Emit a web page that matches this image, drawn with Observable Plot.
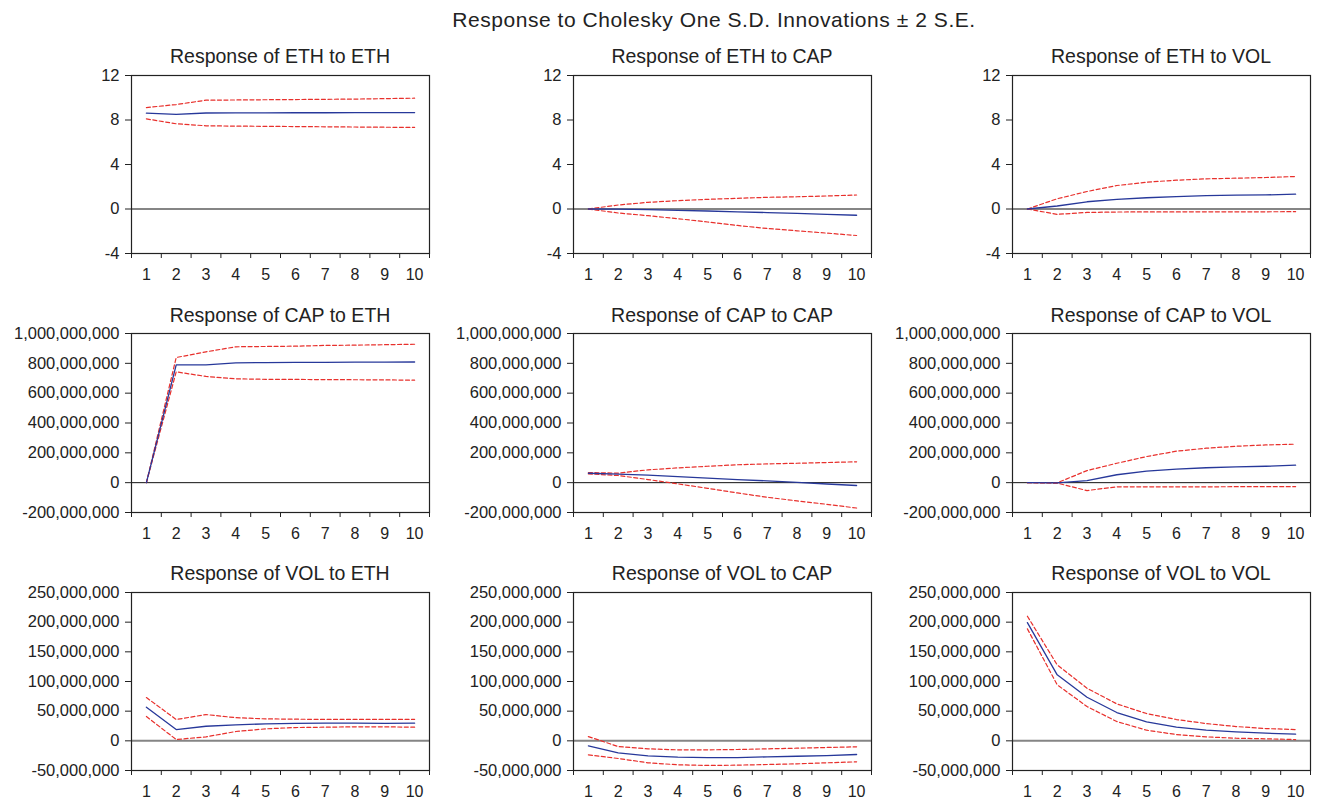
<!DOCTYPE html>
<html>
<head>
<meta charset="utf-8">
<script src="https://cdn.jsdelivr.net/npm/d3@7"></script>
<script src="https://cdn.jsdelivr.net/npm/@observablehq/plot@0.6"></script>
<style>
  html, body { margin: 0; padding: 0; background: #fff; }
  #wrap { position: relative; width: 1320px; height: 801px; overflow: hidden; font-family: "Liberation Sans", Arial, sans-serif; color: #222; }
  .main-title { position: absolute; top: 9px; left: 414px; width: 600px; text-align: center; font-size: 21px; letter-spacing: 0.55px; line-height: 21px; white-space: nowrap; }
  .ptitle { position: absolute; width: 298px; text-align: center; font-size: 19.5px; line-height: 19.5px; white-space: nowrap; }
  .panel { position: absolute; }
</style>
</head>
<body>
<div id="wrap"></div>
<script>
// ---- data (periods 1..10) ----
const periods = [1, 2, 3, 4, 5, 6, 7, 8, 9, 10];
const periodBounds = [0.5, 1.5, 2.5, 3.5, 4.5, 5.5, 6.5, 7.5, 8.5, 9.5, 10.5];
const variables = ["ETH", "CAP", "VOL"];

// Response of ETH
const ethToEth     = [8.61, 8.50, 8.63, 8.64, 8.64, 8.65, 8.65, 8.66, 8.66, 8.66];
const ethToEthUp   = [9.12, 9.39, 9.78, 9.80, 9.82, 9.84, 9.86, 9.88, 9.92, 9.96];
const ethToEthLo   = [8.10, 7.66, 7.48, 7.45, 7.43, 7.41, 7.39, 7.37, 7.35, 7.33];
const ethToCap     = [0, -0.02, -0.06, -0.12, -0.18, -0.25, -0.32, -0.40, -0.48, -0.56];
const ethToCapUp   = [0, 0.36, 0.60, 0.75, 0.87, 0.96, 1.05, 1.10, 1.17, 1.26];
const ethToCapLo   = [0, -0.36, -0.60, -0.87, -1.17, -1.48, -1.75, -1.96, -2.17, -2.38];
const ethToVol     = [0, 0.27, 0.65, 0.86, 1.01, 1.12, 1.20, 1.24, 1.27, 1.33];
const ethToVolUp   = [0, 0.92, 1.57, 2.11, 2.41, 2.59, 2.71, 2.77, 2.83, 2.92];
const ethToVolLo   = [0, -0.48, -0.31, -0.27, -0.26, -0.26, -0.25, -0.25, -0.25, -0.24];

// Response of CAP
const capToEth     = [0, 790e6, 790e6, 803e6, 805e6, 806e6, 807e6, 808e6, 808e6, 809e6];
const capToEthUp   = [0, 839e6, 877e6, 911e6, 913e6, 915e6, 920e6, 922e6, 925e6, 928e6];
const capToEthLo   = [0, 743e6, 712e6, 696e6, 693e6, 692e6, 691e6, 690e6, 689e6, 687e6];
const capToCap     = [63e6, 57e6, 50e6, 41e6, 30e6, 21e6, 12e6, 2e6, -9e6, -19e6];
const capToCapUp   = [68e6, 64e6, 86e6, 99e6, 110e6, 120e6, 126e6, 130e6, 135e6, 140e6];
const capToCapLo   = [59e6, 48e6, 21e6, -8e6, -38e6, -69e6, -98e6, -122e6, -145e6, -170e6];
const capToVol     = [0, -2e6, 14e6, 53e6, 77e6, 91e6, 100e6, 106e6, 110e6, 117e6];
const capToVolUp   = [0, -1e6, 81e6, 130e6, 175e6, 211e6, 231e6, 244e6, 253e6, 258e6];
const capToVolLo   = [0, -3e6, -53e6, -28e6, -28e6, -28e6, -28e6, -27e6, -27e6, -27e6];

// Response of VOL
const volToEth     = [56.6e6, 19e6, 24.6e6, 27e6, 28.6e6, 29.5e6, 30e6, 30e6, 29.5e6, 29.7e6];
const volToEthUp   = [73e6, 35.9e6, 44.3e6, 39e6, 37e6, 36.5e6, 36e6, 36e6, 36e6, 36e6];
const volToEthLo   = [41e6, 2.2e6, 6.7e6, 15.7e6, 20.2e6, 22.4e6, 23e6, 23.6e6, 23.6e6, 23e6];
const volToCap     = [-8.4e6, -20.2e6, -25.3e6, -27.6e6, -28.2e6, -28.2e6, -27e6, -26e6, -25e6, -23e6];
const volToCapUp   = [7.2e6, -9.6e6, -13.5e6, -15.2e6, -15.2e6, -14.6e6, -13.5e6, -12.4e6, -11.2e6, -10.1e6];
const volToCapLo   = [-23.6e6, -29.8e6, -37e6, -40.4e6, -41.5e6, -41e6, -39.9e6, -38.8e6, -37e6, -35.4e6];
const volToVol     = [199.3e6, 111.2e6, 73.5e6, 47.7e6, 32e6, 23e6, 17.9e6, 15.2e6, 12.9e6, 11.2e6];
const volToVolUp   = [210e6, 128e6, 88.6e6, 62.3e6, 46e6, 35.9e6, 29.1e6, 24.1e6, 20.7e6, 19e6];
const volToVolLo   = [188.7e6, 94.4e6, 57.8e6, 32.5e6, 17.9e6, 10.6e6, 6.7e6, 4.4e6, 3.4e6, 2.2e6];

// y tick labels per row
const ethTicks = [-4, 0, 4, 8, 12];
const capTicks = [-200e6, 0, 200e6, 400e6, 600e6, 800e6, 1000e6];
const volTicks = [-50e6, 0, 50e6, 100e6, 150e6, 200e6, 250e6];

const mainTitle = "Response to Cholesky One S.D. Innovations \u00b1 2 S.E.";

// ---- layout ----
const series = {
  ETH: { ETH: [ethToEth, ethToEthUp, ethToEthLo], CAP: [ethToCap, ethToCapUp, ethToCapLo], VOL: [ethToVol, ethToVolUp, ethToVolLo] },
  CAP: { ETH: [capToEth, capToEthUp, capToEthLo], CAP: [capToCap, capToCapUp, capToCapLo], VOL: [capToVol, capToVolUp, capToVolLo] },
  VOL: { ETH: [volToEth, volToEthUp, volToEthLo], CAP: [volToCap, volToCapUp, volToCapLo], VOL: [volToVol, volToVolUp, volToVolLo] }
};
const rowTicks = { ETH: ethTicks, CAP: capTicks, VOL: volTicks };
const rowZero = { ETH: { stroke: "#858585", w: 2 }, CAP: { stroke: "#111", w: 1 }, VOL: { stroke: "#858585", w: 2 } };
const colLeft = [131, 573, 1012];
const rowTop = [75, 333, 592];
const rowH = [178, 179, 178];
const titleTop = [47, 306, 564];
const frameW = 298;
const mL = 130, mR = 6, mT = 6, mB = 30;

const fmt = v => d3.format(",")(v).replace("\u2212", "-");

const wrap = document.getElementById("wrap");
const mt = document.createElement("div");
mt.className = "main-title";
mt.textContent = mainTitle;
wrap.appendChild(mt);

variables.forEach((resp, r) => {
  variables.forEach((imp, c) => {
    const [mid, up, lo] = series[resp][imp];
    const data = periods.map((p, i) => ({ period: p, mid: mid[i], up: up[i], lo: lo[i] }));
    const ticks = rowTicks[resp];
    const z = rowZero[resp];
    const chart = Plot.plot({
      width: mL + frameW + mR,
      height: mT + rowH[r] + mB,
      marginLeft: mL, marginRight: mR, marginTop: mT, marginBottom: mB,
      style: { fontFamily: "'Liberation Sans', Arial, sans-serif", fontSize: "16px", color: "#222", background: "transparent", overflow: "visible" },
      x: { domain: [0.5, 10.5] },
      y: { domain: [ticks[0], ticks[ticks.length - 1]] },
      marks: [
        Plot.ruleY([0], { stroke: z.stroke, strokeWidth: z.w }),
        Plot.line(data, { x: "period", y: "up", stroke: "#e8302c", strokeWidth: 1.2, strokeDasharray: "4,2.5" }),
        Plot.line(data, { x: "period", y: "lo", stroke: "#e8302c", strokeWidth: 1.2, strokeDasharray: "4,2.5" }),
        Plot.line(data, { x: "period", y: "mid", stroke: "#27389a", strokeWidth: 1.3 }),
        Plot.frame({ stroke: "#222", strokeWidth: 1.2 }),
        Plot.axisY(ticks, { tickSize: 6, tickPadding: 6, tickFormat: fmt, label: null, fontSize: 16.5, stroke: "#222" }),
        Plot.axisX(periodBounds, { tickSize: 5, tickFormat: () => "", label: null, stroke: "#222" }),
        Plot.axisX(periods, { tickSize: 0, tickPadding: 15, label: null, fontSize: 16 })
      ]
    });
    const holder = document.createElement("div");
    holder.className = "panel";
    holder.style.left = (colLeft[c] - mL) + "px";
    holder.style.top = (rowTop[r] - mT) + "px";
    holder.appendChild(chart);
    wrap.appendChild(holder);

    const t = document.createElement("div");
    t.className = "ptitle";
    t.style.left = colLeft[c] + "px";
    t.style.top = titleTop[r] + "px";
    t.textContent = `Response of ${resp} to ${imp}`;
    wrap.appendChild(t);
  });
});
</script>
</body>
</html>
